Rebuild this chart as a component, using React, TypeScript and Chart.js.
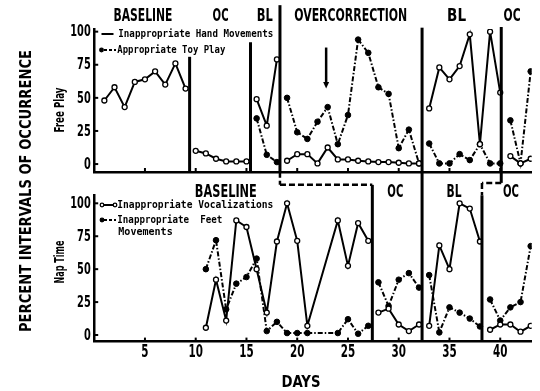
import React, { useEffect, useRef } from "react";
import { Chart, registerables } from "chart.js";

Chart.register(...registerables);

// ---------- data ----------
const DAYS = [
  1, 2, 3, 4, 5, 6, 7, 8, 9, 10, 11, 12, 13, 14, 15, 16, 17, 18, 19, 20, 21, 22,
  23, 24, 25, 26, 27, 28, 29, 30, 31, 32, 33, 34, 35, 36, 37, 38, 39, 40, 41, 42, 43,
];

// Free Play
const HAND_MOVEMENTS = [
  48, 58, 43, 62, 64, 70, 60, 76, 57,
  10, 8, 4, 2, 2, 2,
  49, 29, 79,
  2.5, 7.5, 7.5, 0.5, 12.5, 3.5, 3.5, 2.5, 2, 1.5, 1.5, 1, 0.5, 0.5,
  42, 73, 64, 74, 98, 15, 100, 54,
  6, 0.5, 4,
];
const TOY_PLAY = [
  null, null, null, null, null, null, null, null, null,
  null, null, null, null, null, null,
  34.5, 7, 1.5,
  50, 24, 19, 32, 43, 15, 37, 94, 84, 58, 53, 12, 26, 0.5,
  15.5, 0.5, 0.5, 7.5, 3, 15, 0.5, 0.5,
  33, 0.5, 70,
];

// Nap Time
const VOCALIZATIONS = [
  null, null, null, null, null, null, null, null, null, null,
  5.5, 42, 11, 87, 82, 50, 17, 71, 100, 71.5, 7, null, null, 87, 52.5, 85, 71.5,
  17, 20, 8, 3, 8,
  7, 68, 50, 100, 96, 71,
  4, 8, 8, 2.5, 7,
];
const FEET_MOVEMENTS = [
  null, null, null, null, null, null, null, null, null, null,
  50, 72, 19.5, 39, 44, 58, 3, 10, 1.5, 1.5, 1.5, null, null, 1.5, 12, 1, 7,
  40, 22, 42, 47, 36,
  45.5, 2, 21, 17, 12.5, 6.5,
  27, 11, 21, 25, 67.5,
];

const X_TICKS = [5, 10, 15, 20, 25, 30, 35, 40];
const Y_TICKS = [0, 25, 50, 75, 100];

const TOP_PHASE_NAMES = ["BASELINE", "OC", "BL", "OVERCORRECTION", "BL", "OC"];
const BOTTOM_PHASE_NAMES = ["BASELINE", "OC", "BL", "OC"];
const TOP_PHASE_BREAKS = [9.4, 15.4, 18.3, 32.3, 40.1];
const BOTTOM_PHASE_BREAKS = [27.4, 32.3, 38.2];
const ARROW_DAY = 22.85;

// ---------- layout / style ----------
const NARROW = "'Liberation Sans Narrow', 'Arial Narrow', 'DejaVu Sans Condensed', sans-serif";
const MONO = "'DejaVu Sans Mono', 'Liberation Mono', monospace";
const PHASE_FONT = `bold 17px ${NARROW}`;
const TITLE_FONT = `bold 15px ${NARROW}`;
const SUBTITLE_FONT = `bold 14px ${NARROW}`;
const LEGEND_FONT = `bold 10px ${MONO}`;
const TICK_FONT = `bold 16px ${NARROW}`;
const DIGIT_WIDTH = 6.8;

const TOP_LABEL_DAYS = [4.8, 12.45, 16.8, 25.27, 35.7, 41.16];
const TOP_LABEL_WIDTHS = [59, 16, 16, 113, 19, 17];
const BOTTOM_LABEL_DAYS = [12.97, 29.67, 35.45, 41.06];
const BOTTOM_LABEL_WIDTHS = [62, 16, 15, 16];
const TOP_LINE_TOPS = [81, 92, 120, 103, 103.5];

function buildPoints(values: (number | null)[], breaks: number[]) {
  const pts: { x: number; y: number | null }[] = [];
  DAYS.forEach((d, i) => {
    const v = values[i];
    if (v !== null && v !== undefined) pts.push({ x: d, y: v });
  });
  breaks.forEach((b) => pts.push({ x: b, y: null }));
  pts.sort((a, b) => a.x - b.x);
  return pts;
}

function drawText(
  ctx: CanvasRenderingContext2D,
  text: string,
  x: number,
  y: number,
  sx: number,
  font: string,
  align: CanvasTextAlign = "center",
  rotate = false
) {
  ctx.save();
  ctx.font = font;
  ctx.fillStyle = "#000";
  ctx.textBaseline = "middle";
  ctx.textAlign = align;
  ctx.translate(x, y);
  if (rotate) ctx.rotate(-Math.PI / 2);
  ctx.scale(sx, 1);
  ctx.fillText(text, 0, 0);
  ctx.restore();
}

function fitText(
  ctx: CanvasRenderingContext2D,
  text: string,
  x: number,
  y: number,
  width: number,
  font: string,
  align: CanvasTextAlign = "center",
  rotate = false
) {
  ctx.save();
  ctx.font = font;
  const w = ctx.measureText(text).width || 1;
  ctx.restore();
  drawText(ctx, text, x, y, width / w, font, align, rotate);
}

function digitScale(ctx: CanvasRenderingContext2D) {
  ctx.save();
  ctx.font = TICK_FONT;
  const w = ctx.measureText("0").width || 1;
  ctx.restore();
  return DIGIT_WIDTH / w;
}

function seg(
  ctx: CanvasRenderingContext2D,
  x1: number,
  y1: number,
  x2: number,
  y2: number,
  w: number,
  dash: number[] = []
) {
  ctx.save();
  ctx.strokeStyle = "#000";
  ctx.lineWidth = w;
  ctx.setLineDash(dash);
  ctx.beginPath();
  ctx.moveTo(x1, y1);
  ctx.lineTo(x2, y2);
  ctx.stroke();
  ctx.restore();
}

function dot(ctx: CanvasRenderingContext2D, x: number, y: number, r: number, filled: boolean) {
  ctx.save();
  ctx.beginPath();
  ctx.arc(x, y, r, 0, Math.PI * 2);
  ctx.fillStyle = filled ? "#000" : "#fff";
  ctx.fill();
  ctx.strokeStyle = "#000";
  ctx.lineWidth = 1.3;
  ctx.stroke();
  ctx.restore();
}

function drawAxisTicks(chart: any, withXLabels: boolean) {
  const { ctx, chartArea: a, scales } = chart;
  const s = digitScale(ctx);
  X_TICKS.forEach((d) => {
    const px = scales.x.getPixelForValue(d);
    seg(ctx, px, a.bottom, px, a.bottom - 4, 2);
    if (withXLabels) drawText(ctx, String(d), px, a.bottom + 10.5, s, `bold 17px ${NARROW}`);
  });
  Y_TICKS.forEach((v) => {
    const py = scales.y.getPixelForValue(v);
    seg(ctx, a.left, py, a.left + 4, py, 2);
    drawText(ctx, String(v), a.left - 3.5, py + 0.5, s, TICK_FONT, "right");
  });
}

const topDecor = {
  id: "topDecor",
  afterDraw(chart: any) {
    const { ctx, chartArea: a, scales } = chart;
    const X = (d: number) => scales.x.getPixelForValue(d);
    const Y = (v: number) => scales.y.getPixelForValue(v);
    drawAxisTicks(chart, false);
    TOP_PHASE_BREAKS.forEach((d, i) => seg(ctx, X(d), Y(TOP_LINE_TOPS[i]), X(d), a.bottom, 3));
    TOP_PHASE_NAMES.forEach((t, i) =>
      fitText(ctx, t, X(TOP_LABEL_DAYS[i]), 17, TOP_LABEL_WIDTHS[i], PHASE_FONT)
    );
    // arrow
    const ax = X(ARROW_DAY);
    seg(ctx, ax, Y(88), ax, Y(61), 2.5);
    ctx.save();
    ctx.fillStyle = "#000";
    ctx.beginPath();
    ctx.moveTo(ax - 3, Y(62));
    ctx.lineTo(ax + 3, Y(62));
    ctx.lineTo(ax, Y(57));
    ctx.closePath();
    ctx.fill();
    ctx.restore();
    // legend
    seg(ctx, 101.5, 34, 113.5, 34, 2);
    fitText(ctx, "Inappropriate Hand Movements", 118.3, 34, 155, LEGEND_FONT, "left");
    dot(ctx, 101.5, 50, 1.8, true);
    seg(ctx, 104, 50, 116, 50, 2, [3, 2]);
    fitText(ctx, "Appropriate Toy Play", 117.3, 50, 108, LEGEND_FONT, "left");
    // axis titles
    fitText(ctx, "PERCENT INTERVALS OF OCCURRENCE", 27, 191, 282, TITLE_FONT, "center", true);
    fitText(ctx, "Free Play", 60, 110, 45, SUBTITLE_FONT, "center", true);
  },
};

const bottomDecor = {
  id: "bottomDecor",
  afterDraw(chart: any) {
    const { ctx, chartArea: a, scales } = chart;
    const X = (d: number) => scales.x.getPixelForValue(d);
    const Y = (v: number) => scales.y.getPixelForValue(v);
    drawAxisTicks(chart, true);
    const [b1, b2, b3] = BOTTOM_PHASE_BREAKS;
    const tB = TOP_PHASE_BREAKS;
    const dash = [6, 3];
    // connector from top OVERCORRECTION line to bottom OC line
    seg(ctx, X(tB[2]), Y(124), X(tB[2]), Y(114), 2.5, dash);
    seg(ctx, X(tB[2]), Y(114), X(b1), Y(114), 2.5, dash);
    seg(ctx, X(b1), Y(114), X(b1), a.bottom, 3);
    // shared BL line
    seg(ctx, X(b2), Y(124), X(b2), a.bottom, 3);
    // connector from top final OC line
    seg(ctx, X(tB[4]), Y(124), X(tB[4]), Y(115.5), 3);
    seg(ctx, X(tB[4]), Y(115.5), X(b3), Y(115.5), 2.5, dash);
    seg(ctx, X(b3), Y(115.5), X(b3), Y(106), 2.5, dash);
    seg(ctx, X(b3), Y(106), X(b3), a.bottom, 3);
    BOTTOM_PHASE_NAMES.forEach((t, i) =>
      fitText(ctx, t, X(BOTTOM_LABEL_DAYS[i]), 192.5, BOTTOM_LABEL_WIDTHS[i], PHASE_FONT)
    );
    // legend
    seg(ctx, 102, 205, 115, 205, 2);
    dot(ctx, 102, 205, 1.8, false);
    dot(ctx, 115, 205, 1.8, false);
    fitText(ctx, "Inappropriate Vocalizations", 117.3, 205, 156, LEGEND_FONT, "left");
    dot(ctx, 102, 220, 1.8, true);
    seg(ctx, 104, 220, 116, 220, 2, [3, 2]);
    fitText(ctx, "Inappropriate  Feet", 117.3, 220, 105, LEGEND_FONT, "left");
    fitText(ctx, "Movements", 118.3, 232, 54.4, LEGEND_FONT, "left");
    // titles
    fitText(ctx, "Nap Time", 60, 262, 43, SUBTITLE_FONT, "center", true);
    fitText(ctx, "DAYS", 301, 382.5, 39, `bold 16px ${NARROW}`);
  },
};

function solidSeries(label: string, values: (number | null)[], breaks: number[]) {
  return {
    label,
    data: buildPoints(values, breaks),
    borderColor: "#000",
    borderWidth: 2,
    pointRadius: 2.5,
    pointBackgroundColor: "#fff",
    pointBorderColor: "#000",
    pointBorderWidth: 1.3,
    tension: 0,
    spanGaps: false,
  };
}

function dashedSeries(label: string, values: (number | null)[], breaks: number[]) {
  return {
    label,
    data: buildPoints(values, breaks),
    borderColor: "#000",
    borderWidth: 2,
    borderDash: [5, 2, 1.5, 2],
    pointRadius: 2.8,
    pointBackgroundColor: "#000",
    pointBorderColor: "#000",
    pointBorderWidth: 1,
    tension: 0,
    spanGaps: false,
  };
}

function makeOptions(cfg: { top: number; yMin: number; yMax: number; xHeight: number }) {
  return {
    animation: false as const,
    responsive: false,
    layout: { padding: { top: cfg.top, right: 8.3, left: 0, bottom: 0 } },
    plugins: { legend: { display: false }, tooltip: { enabled: false } },
    scales: {
      x: {
        type: "linear" as const,
        min: 0,
        max: 43.1,
        afterBuildTicks: (s: any) => {
          s.ticks = X_TICKS.map((v) => ({ value: v }));
        },
        ticks: { display: false },
        grid: { display: false },
        border: { color: "#000", width: 2.5 },
        afterFit: (s: any) => {
          s.height = cfg.xHeight;
        },
      },
      y: {
        min: cfg.yMin,
        max: cfg.yMax,
        afterBuildTicks: (s: any) => {
          s.ticks = Y_TICKS.map((v) => ({ value: v }));
        },
        ticks: { display: false },
        grid: { display: false },
        border: { color: "#000", width: 2.5 },
        afterFit: (s: any) => {
          s.width = 94.2;
        },
      },
    },
  };
}

export default function App() {
  const topRef = useRef<HTMLCanvasElement>(null);
  const botRef = useRef<HTMLCanvasElement>(null);

  useEffect(() => {
    const top = new Chart(topRef.current as HTMLCanvasElement, {
      type: "line",
      data: {
        datasets: [
          solidSeries("Inappropriate Hand Movements", HAND_MOVEMENTS, TOP_PHASE_BREAKS),
          dashedSeries("Appropriate Toy Play", TOY_PLAY, TOP_PHASE_BREAKS),
        ],
      },
      options: makeOptions({ top: 29, yMin: -6, yMax: 102, xHeight: 219 }) as any,
      plugins: [topDecor],
    });
    const bottom = new Chart(botRef.current as HTMLCanvasElement, {
      type: "line",
      data: {
        datasets: [
          solidSeries("Inappropriate Vocalizations", VOCALIZATIONS, BOTTOM_PHASE_BREAKS),
          dashedSeries("Inappropriate Feet Movements", FEET_MOVEMENTS, BOTTOM_PHASE_BREAKS),
        ],
      },
      options: makeOptions({ top: 195.4, yMin: -5, yMax: 106, xHeight: 49.4 }) as any,
      plugins: [bottomDecor],
    });
    return () => {
      top.destroy();
      bottom.destroy();
    };
  }, []);

  const canvasStyle: React.CSSProperties = { position: "absolute", left: 0, top: 0 };
  return (
    <div
      style={{
        position: "fixed",
        left: 0,
        top: 0,
        width: 540,
        height: 391,
        background: "#fff",
      }}
    >
      <canvas ref={topRef} width={540} height={391} style={canvasStyle} />
      <canvas ref={botRef} width={540} height={391} style={canvasStyle} />
    </div>
  );
}
